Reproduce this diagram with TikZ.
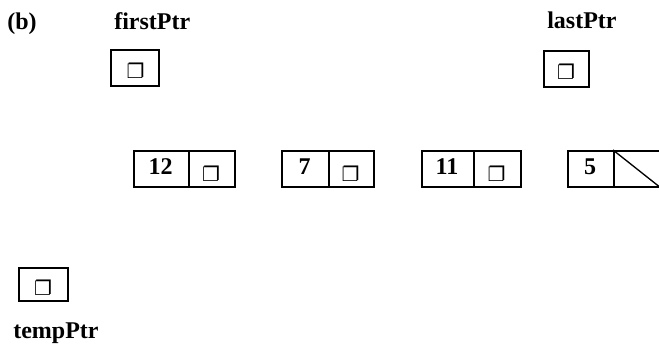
\documentclass[tikz,border=0pt]{standalone}
\usepackage{fontspec}
\setmainfont{Liberation Serif}
\newfontfamily\symfont{DejaVu Sans}
\begin{document}
\begin{tikzpicture}[x=0.75pt,y=-0.75pt,
  lbl/.style={font=\fontsize{18}{20}\selectfont\bfseries, inner sep=0pt, anchor=base west},
  num/.style={font=\fontsize{18}{20}\selectfont\bfseries, inner sep=0pt, anchor=base},
  cell/.style={draw, line width=1.6pt, inner sep=0pt, anchor=north west, minimum height=27pt},
  ptr/.style={font=\symfont\fontsize{15}{15}\selectfont, inner sep=0pt}
]
\useasboundingbox (0,0) rectangle (659,343);
% labels
\node[lbl] (b) at (7,29) {(b)};
\node[lbl] (first) at (114,29) {firstPtr};
\node[lbl] (last) at (547,28) {lastPtr};
\node[lbl] (temp) at (13,338) {tempPtr};
% pointer boxes
\node[cell, minimum width=36pt] (fbox) at (110,49) {};
\node[ptr] at (135.5,70.5) {❐};
\node[cell, minimum width=33.75pt] (lbox) at (543,50) {};
\node[ptr] at (566,71.5) {❐};
\node[cell, minimum width=36.75pt, minimum height=24.75pt] (tbox) at (18,267) {};
\node[ptr] at (43,288) {❐};
% list node 12
\node[cell, minimum width=41.25pt] (d1) at (133,150) {};
\node[cell, minimum width=34.5pt] (p1) at (188,150) {};
\node[num] at (160.5,174) {12};
\node[ptr] at (211,173.5) {❐};
% list node 7
\node[cell, minimum width=35.25pt] (d2) at (281,150) {};
\node[cell, minimum width=33.75pt] (p2) at (328,150) {};
\node[num] at (304.5,174) {7};
\node[ptr] at (350.5,173.5) {❐};
% list node 11
\node[cell, minimum width=39pt] (d3) at (421,150) {};
\node[cell, minimum width=35.25pt] (p3) at (473,150) {};
\node[num] at (447,174) {11};
\node[ptr] at (496.5,173.5) {❐};
% list node 5
\node[cell, minimum width=34.5pt] (d4) at (567,150) {};
\node[cell, minimum width=34.5pt] (p4) at (613,150) {};
\node[num] at (590,174) {5};
\draw[line width=1pt] (p4.north west) -- (p4.south east);
\end{tikzpicture}
\end{document}
